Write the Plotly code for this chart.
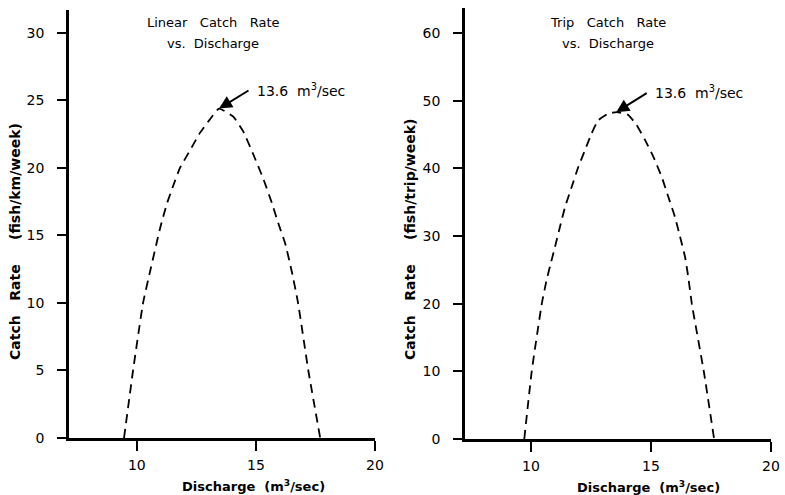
import plotly.graph_objects as go

# ---- data ----
linear_discharge = [9.46, 9.84, 10.26, 10.55, 10.97, 11.25, 11.53, 11.81, 12.23, 12.65, 13.07, 13.45,
                    14.05, 14.47, 14.89, 15.31, 15.67, 15.94, 16.23, 16.51, 16.77, 17.2, 17.7]
linear_rate = [0, 5, 10, 12.3, 15.5, 17.3, 18.7, 20.0, 21.3, 22.6, 23.6, 24.4,
               23.8, 22.7, 21.0, 19.2, 17.4, 15.9, 14.4, 12.3, 10, 5, 0]

trip_discharge = [9.72, 10.03, 10.45, 10.65, 10.79, 11.0, 11.21, 11.42, 11.70, 11.97, 12.25, 12.53, 12.80,
                  13.22, 13.57, 14.05, 14.40, 14.75, 15.10, 15.45, 15.72, 16.0, 16.21, 16.42, 16.55, 16.7,
                  17.2, 17.63]
trip_rate = [0, 10, 20, 23.5, 25.5, 28.4, 31.4, 34.3, 37.3, 40.2, 42.7, 45.2, 47.1,
             48.1, 48.3, 47.9, 46.4, 44.2, 41.7, 38.7, 35.8, 32.8, 29.9, 26.9, 24.0, 20,
             10, 0]

x_ticks = [10, 15, 20]
linear_y_ticks = [0, 5, 10, 15, 20, 25, 30]
trip_y_ticks = [0, 10, 20, 30, 40, 50, 60]

peak_label = "13.6\u00a0\u00a0m<sup>3</sup>/sec"

NB = "\u00a0"
FONT = "DejaVu Sans"

fig = go.Figure()
fig.add_trace(go.Scatter(x=linear_discharge, y=linear_rate, mode="lines",
                         line=dict(color="black", width=1.8, dash="9px,6px", shape="spline", smoothing=0.4),
                         xaxis="x", yaxis="y", showlegend=False, hoverinfo="skip"))
fig.add_trace(go.Scatter(x=trip_discharge, y=trip_rate, mode="lines",
                         line=dict(color="black", width=1.8, dash="9px,6px", shape="spline", smoothing=0.4),
                         xaxis="x2", yaxis="y2", showlegend=False, hoverinfo="skip"))

W, H = 785, 495

def xdom(a, b):
    return [a / W, b / W]

def ydom(bottom, top):
    return [1 - bottom / H, 1 - top / H]

axis_common = dict(showgrid=False, zeroline=False, showline=True, linecolor="black",
                   linewidth=2.5, ticks="outside", tickcolor="black", tickwidth=1.5,
                   automargin=False,
                   tickfont=dict(family=FONT, size=14, color="black"), fixedrange=True)

fig.update_layout(
    width=W, height=H,
    margin=dict(l=0, r=0, t=0, b=0),
    paper_bgcolor="white", plot_bgcolor="white",
    font=dict(family=FONT, color="black"),
    xaxis=dict(domain=xdom(69, 375), range=[7.15, 20], tickvals=x_ticks, ticklen=10,
               ticklabelstandoff=2, anchor="y", **axis_common),
    yaxis=dict(domain=ydom(438, 10), range=[0, 31.7], tickvals=linear_y_ticks, ticklen=9,
               ticklabelstandoff=10, anchor="x", **axis_common),
    xaxis2=dict(domain=xdom(465, 771), range=[7.25, 20], tickvals=x_ticks, ticklen=10,
                ticklabelstandoff=2, anchor="y2", **axis_common),
    yaxis2=dict(domain=ydom(439, 8), range=[0, 63.7], tickvals=trip_y_ticks, ticklen=9,
                ticklabelstandoff=10, anchor="x2", **axis_common),
)

ann = []
title_font = dict(family=FONT, size=13, color="black")
peak_font = dict(family=FONT, size=14, color="black")
xt_font = dict(family=FONT, size=13, color="black", weight="bold")
yt_font = dict(family=FONT, size=14, color="black", weight="bold")

# panel titles
ann.append(dict(xref="x", yref="y", x=13.2, y=30.8, text=f"Linear{NB*3}Catch{NB*3}Rate",
                showarrow=False, font=title_font))
ann.append(dict(xref="x", yref="y", x=13.2, y=29.25, text=f"vs.{NB*2}Discharge",
                showarrow=False, font=title_font))
ann.append(dict(xref="x2", yref="y2", x=13.2, y=61.6, text=f"Trip{NB*3}Catch{NB*3}Rate",
                showarrow=False, font=title_font))
ann.append(dict(xref="x2", yref="y2", x=13.2, y=58.5, text=f"vs.{NB*2}Discharge",
                showarrow=False, font=title_font))

# peak arrows
ann.append(dict(xref="x", yref="y", x=13.45, y=24.4, ax=31, ay=-19, text="",
                showarrow=True, arrowhead=2, arrowsize=1.3, arrowwidth=2, arrowcolor="black"))
ann.append(dict(xref="x", yref="y", x=14.96, y=25.8, text=peak_label, xanchor="left",
                showarrow=False, font=peak_font))
ann.append(dict(xref="x2", yref="y2", x=13.55, y=48.3, ax=32, ay=-20, text="",
                showarrow=True, arrowhead=2, arrowsize=1.3, arrowwidth=2, arrowcolor="black"))
ann.append(dict(xref="x2", yref="y2", x=15.08, y=51.3, text=peak_label, xanchor="left",
                showarrow=False, font=peak_font))

# axis titles
xtitle = f"Discharge{NB*2}(m<sup>3</sup>/sec)"
ann.append(dict(xref="paper", yref="paper", x=253 / W, y=1 - 486 / H, text=xtitle,
                xanchor="center", yanchor="middle", showarrow=False, font=xt_font))
ann.append(dict(xref="paper", yref="paper", x=648 / W, y=1 - 487 / H, text=xtitle,
                xanchor="center", yanchor="middle", showarrow=False, font=xt_font))
ann.append(dict(xref="paper", yref="paper", x=15 / W, y=1 - 242 / H,
                text=f"Catch{NB*3}Rate{NB*5}(fish/km/week)", textangle=-90,
                xanchor="center", yanchor="middle", showarrow=False, font=yt_font))
ann.append(dict(xref="paper", yref="paper", x=410 / W, y=1 - 240 / H,
                text=f"Catch{NB*3}Rate{NB*5}(fish/trip/week)", textangle=-90,
                xanchor="center", yanchor="middle", showarrow=False, font=yt_font))

fig.update_layout(annotations=ann)
fig.write_html(
    "out.html",
    config={"displayModeBar": False},
    post_script="document.body.style.margin='0px';document.body.style.overflow='hidden';",
)
